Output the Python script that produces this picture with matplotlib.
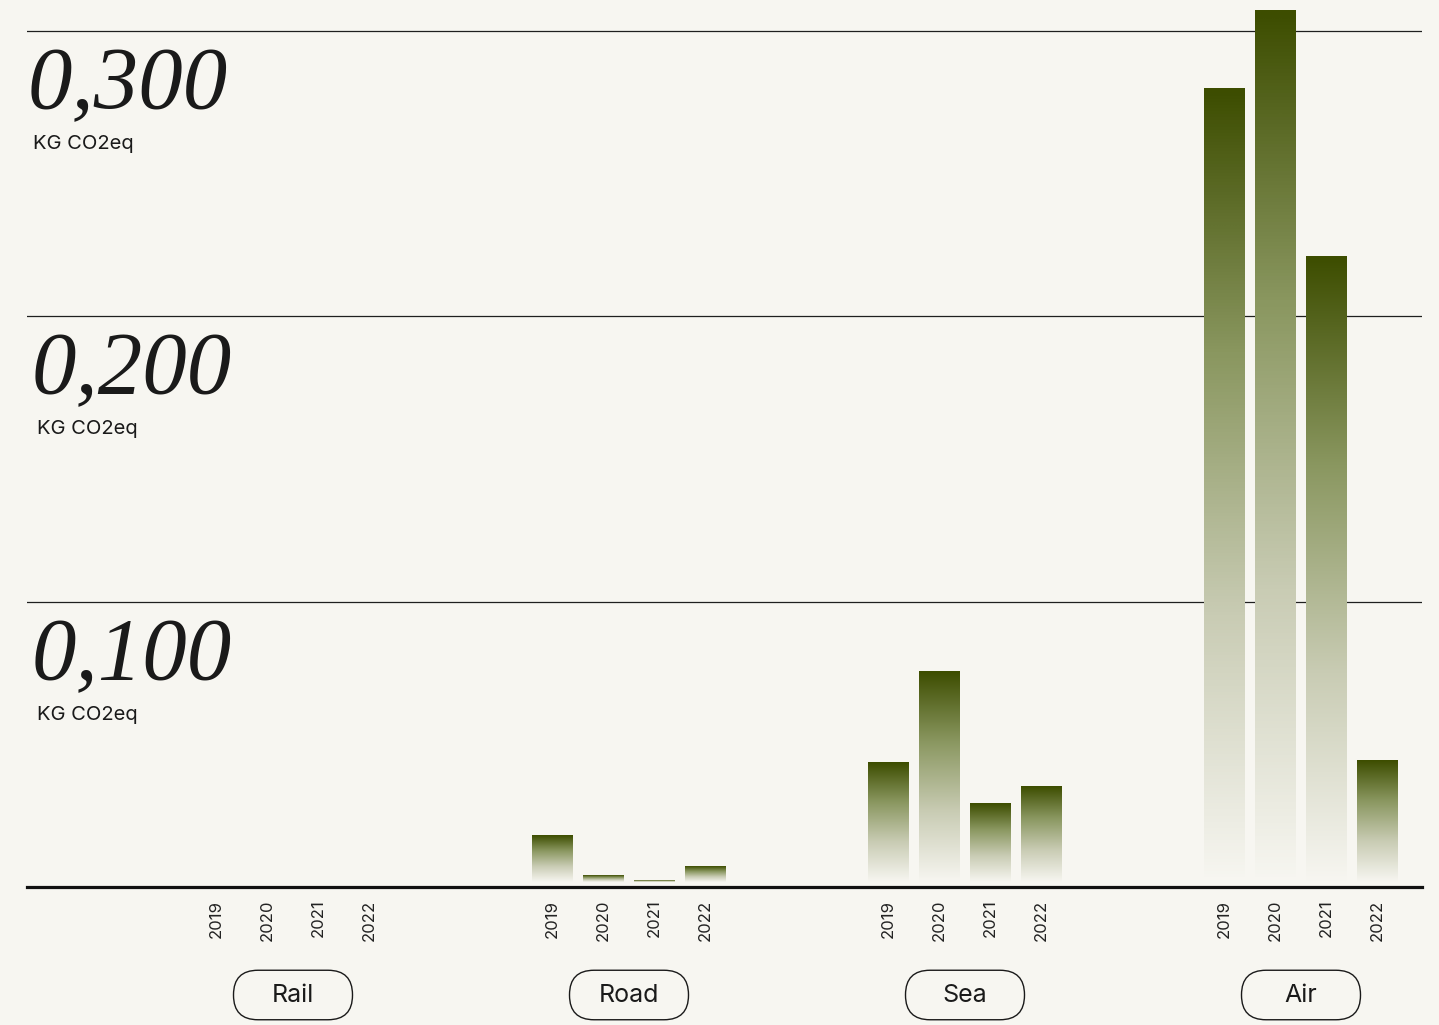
import numpy as np
import matplotlib
matplotlib.use("Agg")
import matplotlib.pyplot as plt
from matplotlib.colors import LinearSegmentedColormap
from matplotlib.patches import FancyBboxPatch

# data (kg CO2eq)
modes = ["Rail", "Road", "Sea", "Air"]
years = ["2019", "2020", "2021", "2022"]
rail = [0.0, 0.0, 0.0, 0.0]
road = [0.0179, 0.0039, 0.0022, 0.0070]
sea = [0.0435, 0.0754, 0.0291, 0.0351]
air = [0.2797, 0.3070, 0.2208, 0.0442]
values = [rail, road, sea, air]
yticks = [0.1, 0.2, 0.3]
ytick_labels = ["0,100", "0,200", "0,300"]
unit = "KG CO2eq"

bg = "#f7f6f1"
dark = "#3d4d00"
cmap = LinearSegmentedColormap.from_list("fade", [bg, "#c9ccb4", "#8a9760", dark])

W, H = 1439, 1025
base_px = 887
px_per_unit = 2853
fig = plt.figure(figsize=(W / 100, H / 100), dpi=100, facecolor=bg)
# axes: x from 27 to 1422 px, y from baseline to top of figure
ax = fig.add_axes([27 / W, (H - base_px) / H, (1422 - 27) / W, base_px / H])
ax.set_facecolor(bg)
for s in ax.spines.values():
    s.set_visible(False)
ax.set_xticks([])
ax.set_yticks([])

group_step = 336 / 51
bar_w = 41 / 51
y0 = 0.0017
grad = np.linspace(0, 1, 256).reshape(-1, 1)

centers = []
for g, vals in enumerate(values):
    xs = [g * group_step + j for j in range(len(years))]
    centers.append(np.mean(xs))
    for j, (x, v) in enumerate(zip(xs, vals)):
        if v > y0:
            ax.imshow(grad, extent=[x - bar_w / 2, x + bar_w / 2, y0, v],
                      origin="lower", aspect="auto", cmap=cmap, zorder=3,
                      interpolation="bilinear")
        ax.annotate(years[j], (x, 0), xytext=(0, -9), textcoords="offset points",
                    rotation=90, ha="center", va="top", fontsize=12,
                    family="Inter", color="#222222")

# grid lines and labels
for t, lab in zip(yticks, ytick_labels):
    ax.axhline(t, color="#1f1f1f", lw=0.9, zorder=2)
    dx = 1 if t == 0.3 else 5
    ax.annotate(lab, (0, t), xycoords=("axes fraction", "data"),
                xytext=(dx * 0.72, -77 * 0.72), textcoords="offset points",
                ha="left", va="baseline", fontsize=64, style="italic",
                family="Liberation Serif", color="#1a1a1a")
    ax.annotate(unit, (0, t), xycoords=("axes fraction", "data"),
                xytext=((dx + 5) * 0.72, -113 * 0.72), textcoords="offset points",
                ha="left", va="center", fontsize=14.5, family="Inter",
                color="#1a1a1a")
ax.axhline(0, color="#111111", lw=2.3, zorder=4, clip_on=False)

ax.set_xlim(-189.5 / 51, 1205.5 / 51)
ax.set_ylim(0, base_px / px_per_unit)

# category pills (overlay in pixel coords)
ov = fig.add_axes([0, 0, 1, 1], facecolor="none")
ov.set_xlim(0, W)
ov.set_ylim(H, 0)
ov.axis("off")
fig.canvas.draw()
for name, c in zip(modes, centers):
    px = ax.transData.transform((c, 0))[0]
    ov.add_patch(FancyBboxPatch((px - 35, 994.75), 70, 0.5,
                                boxstyle="round,pad=24.5", fc="none",
                                ec="#1a1a1a", lw=1.0))
    ov.text(px, 995, name, ha="center", va="center", fontsize=18,
            family="Inter", color="#1a1a1a")

fig.savefig("out.png", dpi=100, facecolor=bg)
